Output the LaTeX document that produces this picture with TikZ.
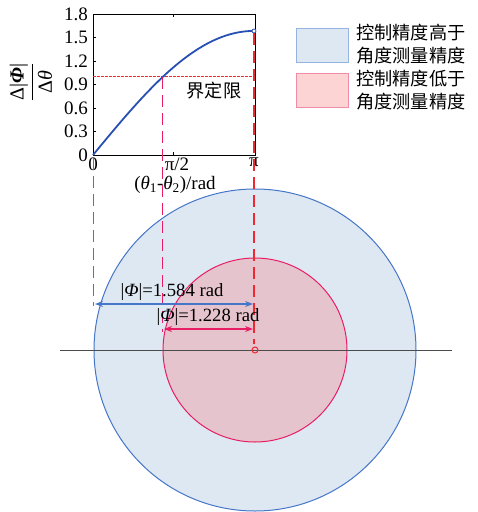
\documentclass[tikz,border=0pt]{standalone}
\usepackage{fontspec}
\setmainfont{Liberation Serif}
\newfontfamily\cjk{Noto Sans CJK SC}
\usetikzlibrary{arrows.meta}
\definecolor{cblue}{RGB}{70,118,200}
\definecolor{cbluefill}{RGB}{222,232,243}
\definecolor{ccurve}{RGB}{40,80,180}
\definecolor{cpink}{RGB}{232,30,100}
\definecolor{cpinkfill}{RGB}{230,196,206}
\definecolor{cred}{RGB}{240,40,50}
\definecolor{clegpink}{RGB}{252,212,212}
\definecolor{clegpinkb}{RGB}{240,140,165}
\definecolor{clegblueb}{RGB}{150,180,225}
\tikzset{
  tick/.style={font=\fontsize{19}{19}\selectfont, inner sep=0pt},
  leg/.style={font=\cjk\fontsize{18.2}{23}\selectfont, align=left, anchor=north west, inner sep=0pt},
  dimlbl/.style={font=\fontsize{18.7}{19}\selectfont, inner sep=0pt},
  vdash/.style={dash pattern=on 12pt off 6pt, line width=1.2pt},
}
\begin{document}
\begin{tikzpicture}[x=1pt,y=-1pt]
\useasboundingbox (0,0) rectangle (478,512);
% circles
\node[circle, draw=cblue, fill=cbluefill, line width=1pt, minimum size=322pt, inner sep=0pt] (big) at (255,350) {};
\node[circle, draw=cpink, fill=cpinkfill, line width=1pt, minimum size=184pt, inner sep=0pt] (small) at (255,350) {};
% horizontal axis line
\coordinate (hl) at (60,350);
\coordinate (hr) at (452,350);
\draw[black!70, line width=0.7pt] (hl) -- (hr);
% plot frame
\coordinate (o) at (93,155);
\coordinate (tr) at (255,14);
\draw[line width=1pt] (o) rectangle (tr);
% y ticks
\foreach \v/\l in {0/0,0.3/0.3,0.6/0.6,0.9/0.9,1.2/1.2,1.5/1.5,1.8/1.8}{
  \draw[line width=0.6pt] (93,{155-\v*78.33}) -- (96,{155-\v*78.33});
  \node[tick, anchor=east] (yt\l) at (88,{155-\v*78.33}) {\l};
}
% x ticks
\draw[line width=0.6pt] (173,155) -- (173,152);
\draw[line width=0.6pt] (173,14) -- (173,17);
\node[tick, anchor=north] (x0) at (93,158) {0};
\node[tick, anchor=north] (x1) at (177,158) {π/2};
\node[tick, anchor=north] (x2) at (254,158) {π};
\node[tick] (xl) at (175,185) {(\textit{θ}\textsubscript{1}-\textit{θ}\textsubscript{2})/rad};
\node[tick, rotate=90, font=\fontsize{20}{20}\selectfont] (yl) at (31,82) {$\displaystyle\frac{\hbox{Δ|\textbf{\textit{Φ}}|}}{\hbox{Δ\textit{θ}}}$};
% threshold
\coordinate (thl) at (93,76.7);
\coordinate (thr) at (255,76.7);
\draw[cred, line width=1.3pt, dash pattern=on 2.5pt off 1.5pt] (thl) -- (thr);
\node[leg, anchor=center] (lim) at (214,91) {界定限};
% curve
\draw[ccurve, line width=1.8pt] plot[domain=0:1, samples=80] ({93+161*\x},{155-124.08*sin(90*\x)});
\node[circle, draw=ccurve, fill=white, line width=0.8pt, minimum size=4pt, inner sep=0pt] (endpt) at (254,31) {};
% dashed verticals
\coordinate (b1) at (93.5,158);
\coordinate (b2) at (93.5,306);
\draw[cblue, vdash] (b1) -- (b2);
\coordinate (p1) at (162.5,77);
\coordinate (p2) at (162.5,332);
\draw[cpink, vdash] (p1) -- (p2);
\coordinate (r1) at (254,33);
\coordinate (r2) at (254,344);
\draw[cred, vdash] (r1) -- (r2);
\node[circle, draw=cred, fill=none, line width=1pt, minimum size=6pt, inner sep=0pt] (ctr) at (255,350) {};
% dimension arrows
\coordinate (a1) at (95,304);
\coordinate (a2) at (253,304);
\draw[cblue, line width=1.1pt, {Stealth[length=8pt,width=6pt]}-{Stealth[length=8pt,width=6pt]}] (a1) -- (a2);
\node[dimlbl] (lb1) at (172,292) {|\textit{Φ}|=1.584 rad};
\coordinate (c1) at (164,329);
\coordinate (c2) at (253,329);
\draw[cpink, line width=1.1pt, {Stealth[length=8pt,width=6pt]}-{Stealth[length=8pt,width=6pt]}] (c1) -- (c2);
\node[dimlbl] (lb2) at (208,317) {|\textit{Φ}|=1.228 rad};
% legend
\node[draw=clegblueb, fill=cbluefill, line width=0.8pt, minimum width=52pt, minimum height=34pt, inner sep=0pt] (lg1) at (322,45) {};
\node[draw=clegpinkb, fill=clegpink, line width=0.8pt, minimum width=52pt, minimum height=34pt, inner sep=0pt] (lg2) at (322,90.5) {};
\node[leg] (lt1) at (356,24) {控制精度高于\\角度测量精度};
\node[leg] (lt2) at (356,70) {控制精度低于\\角度测量精度};
\end{tikzpicture}
\end{document}
